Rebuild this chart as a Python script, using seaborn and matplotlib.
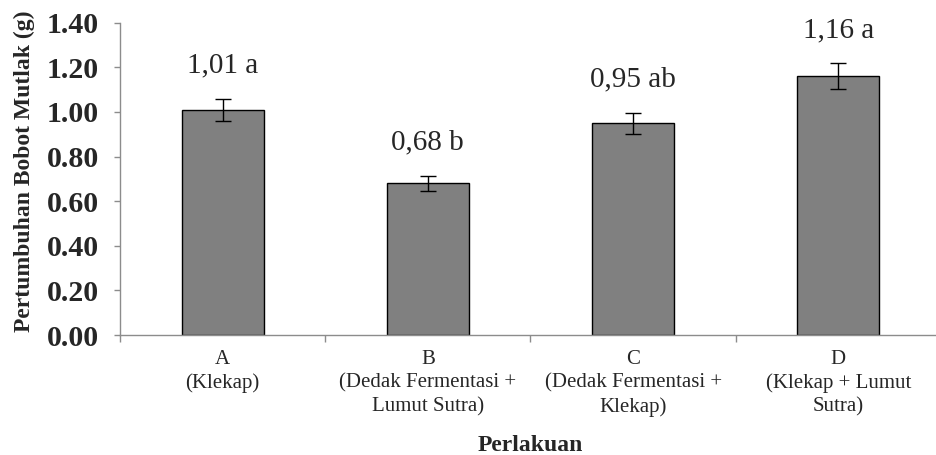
import numpy as np
import pandas as pd
import matplotlib
matplotlib.use("Agg")
import matplotlib.pyplot as plt
import seaborn as sns
from matplotlib.ticker import FixedLocator, FormatStrFormatter

# data
perlakuan = ["A\n(Klekap)",
             "B\n(Dedak Fermentasi +\nLumut Sutra)",
             "C\n(Dedak Fermentasi +\nKlekap)",
             "D\n(Klekap + Lumut\nSutra)"]
bobot = [1.01, 0.68, 0.95, 1.16]
se = [0.05, 0.034, 0.047, 0.058]
notasi = ["1,01 a", "0,68 b", "0,95 ab", "1,16 a"]

sns.set_style("white")
plt.rcParams["font.family"] = ["Liberation Serif", "DejaVu Serif"]

df = pd.DataFrame({"Perlakuan": perlakuan, "Bobot": bobot})

fig = plt.figure(figsize=(9.36, 4.55), dpi=100)
ax = fig.add_axes([0.1282, 0.2637, 0.8771, 0.6864])

sns.barplot(data=df, x="Perlakuan", y="Bobot", color="#808080", saturation=1,
            edgecolor="black", linewidth=1, width=0.4, errorbar=None, ax=ax)
ax.errorbar(np.arange(len(bobot)), bobot, yerr=se, fmt="none", ecolor="black",
            elinewidth=1, capsize=6, capthick=1)

# label huruf notasi di atas bar
for i, (v, s, t) in enumerate(zip(bobot, se, notasi)):
    ax.annotate(t, xy=(i, v + s), xytext=(0, 19), textcoords="offset points",
                ha="center", va="baseline", fontsize=21)

ax.set_ylim(0, 1.40)
ax.set_xlim(-0.5, 3.5)
ax.set_yticks(np.arange(0, 1.41, 0.2))
ax.yaxis.set_major_formatter(FormatStrFormatter("%.2f"))
for lab in ax.get_yticklabels():
    lab.set_fontweight("bold")
    lab.set_fontsize(21.5)

# tick di batas kategori, label di tengah bar
ax.xaxis.set_major_locator(FixedLocator([-0.5, 0.5, 1.5, 2.5, 3.5]))
ax.xaxis.set_minor_locator(FixedLocator(range(len(perlakuan))))
ax.set_xticklabels([], minor=False)
ax.set_xticklabels(perlakuan, minor=True, fontsize=15, linespacing=1.3)
ax.tick_params(axis="x", which="minor", length=0, pad=11)
ax.tick_params(axis="x", which="major", length=4.8, width=1, color="#8c8c8c",
               direction="out", bottom=True)
ax.tick_params(axis="y", length=4.3, width=1, color="#8c8c8c", direction="out",
               pad=11, left=True)

sns.despine(ax=ax)
for sp in ["left", "bottom"]:
    ax.spines[sp].set_color("#8c8c8c")
    ax.spines[sp].set_linewidth(1)

ax.set_xlabel("Perlakuan", fontsize=17, fontweight="bold")
ax.set_ylabel("Pertumbuhan Bobot Mutlak (g)", fontsize=17, fontweight="bold")
ax.xaxis.set_label_coords(0.5, -0.32)
ax.yaxis.set_label_coords(-0.104, 0.525)

fig.savefig("out.png", dpi=100)
